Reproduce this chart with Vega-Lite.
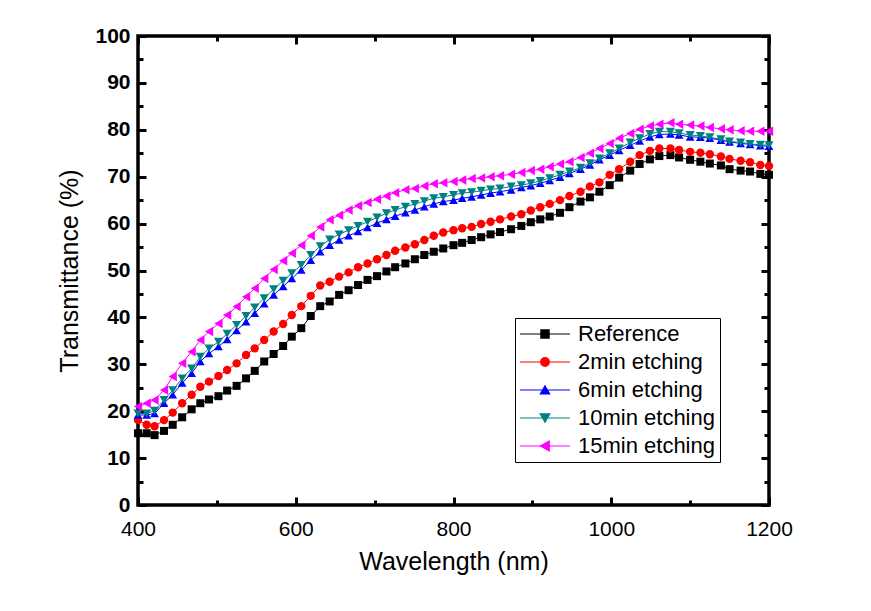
{
  "$schema": "https://vega.github.io/schema/vega-lite/v6.json",
  "width": 631,
  "height": 469,
  "autosize": {"type": "none"},
  "padding": {"left": 138, "top": 36, "right": 102, "bottom": 106},
  "background": "white",
  "config": {
    "view": {"stroke": "black", "strokeWidth": 3.5},
    "font": "Liberation Sans",
    "axis": {"grid": false, "domain": false, "tickColor": "black", "tickWidth": 3, "labelColor": "black", "titleColor": "black", "labelFont": "Liberation Sans", "titleFont": "Liberation Sans"},
    "legend": {"padding": 5, "labelFontSize": 22, "labelFont": "Liberation Sans", "labelLimit": 300, "rowPadding": 6, "symbolSize": 100}
  },
  "datasets": {
    "main": [
      {"s":"Reference","w":400,"t":15.3},{"s":"Reference","w":411,"t":15.3},{"s":"Reference","w":421,"t":14.9},{"s":"Reference","w":433,"t":15.8},{"s":"Reference","w":444,"t":17.1},{"s":"Reference","w":456,"t":18.7},{"s":"Reference","w":468,"t":20.4},{"s":"Reference","w":479,"t":21.7},{"s":"Reference","w":490,"t":22.5},{"s":"Reference","w":502,"t":23.2},{"s":"Reference","w":513,"t":24.4},{"s":"Reference","w":525,"t":25.4},{"s":"Reference","w":537,"t":27.0},{"s":"Reference","w":548,"t":28.6},{"s":"Reference","w":560,"t":30.6},{"s":"Reference","w":572,"t":32.2},{"s":"Reference","w":584,"t":33.9},{"s":"Reference","w":595,"t":35.9},{"s":"Reference","w":607,"t":37.7},{"s":"Reference","w":619,"t":40.3},{"s":"Reference","w":631,"t":42.4},{"s":"Reference","w":643,"t":43.4},{"s":"Reference","w":655,"t":44.8},{"s":"Reference","w":667,"t":45.8},{"s":"Reference","w":679,"t":46.9},{"s":"Reference","w":691,"t":48.0},{"s":"Reference","w":703,"t":48.8},{"s":"Reference","w":715,"t":49.8},{"s":"Reference","w":726,"t":50.7},{"s":"Reference","w":739,"t":51.5},{"s":"Reference","w":751,"t":52.4},{"s":"Reference","w":763,"t":53.3},{"s":"Reference","w":775,"t":54.0},{"s":"Reference","w":787,"t":54.7},{"s":"Reference","w":800,"t":55.4},{"s":"Reference","w":811,"t":55.9},{"s":"Reference","w":823,"t":56.5},{"s":"Reference","w":835,"t":57.1},{"s":"Reference","w":847,"t":57.7},{"s":"Reference","w":859,"t":58.2},{"s":"Reference","w":873,"t":58.8},{"s":"Reference","w":886,"t":59.5},{"s":"Reference","w":898,"t":60.3},{"s":"Reference","w":910,"t":60.9},{"s":"Reference","w":922,"t":61.5},{"s":"Reference","w":935,"t":62.3},{"s":"Reference","w":947,"t":63.5},{"s":"Reference","w":961,"t":64.7},{"s":"Reference","w":973,"t":65.6},{"s":"Reference","w":985,"t":66.8},{"s":"Reference","w":998,"t":68.2},{"s":"Reference","w":1010,"t":69.8},{"s":"Reference","w":1024,"t":71.3},{"s":"Reference","w":1036,"t":72.7},{"s":"Reference","w":1049,"t":73.7},{"s":"Reference","w":1061,"t":74.4},{"s":"Reference","w":1075,"t":74.6},{"s":"Reference","w":1086,"t":74.1},{"s":"Reference","w":1100,"t":73.6},{"s":"Reference","w":1113,"t":73.2},{"s":"Reference","w":1125,"t":72.8},{"s":"Reference","w":1139,"t":72.4},{"s":"Reference","w":1150,"t":71.6},{"s":"Reference","w":1164,"t":71.3},{"s":"Reference","w":1176,"t":71.1},{"s":"Reference","w":1189,"t":70.6},{"s":"Reference","w":1200,"t":70.4},

      {"s":"2min etching","w":400,"t":18.1},{"s":"2min etching","w":411,"t":17.1},{"s":"2min etching","w":421,"t":16.8},{"s":"2min etching","w":433,"t":18.1},{"s":"2min etching","w":444,"t":19.7},{"s":"2min etching","w":456,"t":21.7},{"s":"2min etching","w":468,"t":23.5},{"s":"2min etching","w":479,"t":25.2},{"s":"2min etching","w":490,"t":26.3},{"s":"2min etching","w":502,"t":27.5},{"s":"2min etching","w":513,"t":28.8},{"s":"2min etching","w":525,"t":30.2},{"s":"2min etching","w":537,"t":32.0},{"s":"2min etching","w":548,"t":33.4},{"s":"2min etching","w":560,"t":35.2},{"s":"2min etching","w":572,"t":37.0},{"s":"2min etching","w":584,"t":38.6},{"s":"2min etching","w":595,"t":40.5},{"s":"2min etching","w":607,"t":42.4},{"s":"2min etching","w":619,"t":44.6},{"s":"2min etching","w":631,"t":46.8},{"s":"2min etching","w":643,"t":47.6},{"s":"2min etching","w":655,"t":48.7},{"s":"2min etching","w":667,"t":49.6},{"s":"2min etching","w":679,"t":50.7},{"s":"2min etching","w":691,"t":51.5},{"s":"2min etching","w":703,"t":52.4},{"s":"2min etching","w":715,"t":53.3},{"s":"2min etching","w":726,"t":54.2},{"s":"2min etching","w":739,"t":54.9},{"s":"2min etching","w":751,"t":55.6},{"s":"2min etching","w":763,"t":56.5},{"s":"2min etching","w":775,"t":57.4},{"s":"2min etching","w":787,"t":58.1},{"s":"2min etching","w":800,"t":58.6},{"s":"2min etching","w":811,"t":59.0},{"s":"2min etching","w":823,"t":59.3},{"s":"2min etching","w":835,"t":59.9},{"s":"2min etching","w":847,"t":60.4},{"s":"2min etching","w":859,"t":60.9},{"s":"2min etching","w":873,"t":61.5},{"s":"2min etching","w":886,"t":62.0},{"s":"2min etching","w":898,"t":62.8},{"s":"2min etching","w":910,"t":63.5},{"s":"2min etching","w":922,"t":64.2},{"s":"2min etching","w":935,"t":65.0},{"s":"2min etching","w":947,"t":65.9},{"s":"2min etching","w":961,"t":66.8},{"s":"2min etching","w":973,"t":67.9},{"s":"2min etching","w":985,"t":68.8},{"s":"2min etching","w":998,"t":70.4},{"s":"2min etching","w":1010,"t":71.6},{"s":"2min etching","w":1024,"t":73.2},{"s":"2min etching","w":1036,"t":74.6},{"s":"2min etching","w":1049,"t":75.5},{"s":"2min etching","w":1061,"t":76.0},{"s":"2min etching","w":1075,"t":76.0},{"s":"2min etching","w":1086,"t":75.7},{"s":"2min etching","w":1100,"t":75.3},{"s":"2min etching","w":1113,"t":75.1},{"s":"2min etching","w":1125,"t":74.8},{"s":"2min etching","w":1139,"t":74.3},{"s":"2min etching","w":1150,"t":73.8},{"s":"2min etching","w":1164,"t":73.4},{"s":"2min etching","w":1176,"t":73.1},{"s":"2min etching","w":1189,"t":72.5},{"s":"2min etching","w":1200,"t":72.3},

      {"s":"6min etching","w":400,"t":19.2},{"s":"6min etching","w":411,"t":19.2},{"s":"6min etching","w":421,"t":19.5},{"s":"6min etching","w":433,"t":21.7},{"s":"6min etching","w":444,"t":23.5},{"s":"6min etching","w":456,"t":26.0},{"s":"6min etching","w":468,"t":28.1},{"s":"6min etching","w":479,"t":30.6},{"s":"6min etching","w":490,"t":32.3},{"s":"6min etching","w":502,"t":33.8},{"s":"6min etching","w":513,"t":35.3},{"s":"6min etching","w":525,"t":37.2},{"s":"6min etching","w":537,"t":39.1},{"s":"6min etching","w":548,"t":40.9},{"s":"6min etching","w":560,"t":42.9},{"s":"6min etching","w":572,"t":44.8},{"s":"6min etching","w":584,"t":46.6},{"s":"6min etching","w":595,"t":48.3},{"s":"6min etching","w":607,"t":50.1},{"s":"6min etching","w":619,"t":52.2},{"s":"6min etching","w":631,"t":54.0},{"s":"6min etching","w":643,"t":55.4},{"s":"6min etching","w":655,"t":56.5},{"s":"6min etching","w":667,"t":57.4},{"s":"6min etching","w":679,"t":58.3},{"s":"6min etching","w":691,"t":59.2},{"s":"6min etching","w":703,"t":60.1},{"s":"6min etching","w":715,"t":60.9},{"s":"6min etching","w":726,"t":61.6},{"s":"6min etching","w":739,"t":62.3},{"s":"6min etching","w":751,"t":62.9},{"s":"6min etching","w":763,"t":63.6},{"s":"6min etching","w":775,"t":64.2},{"s":"6min etching","w":787,"t":64.7},{"s":"6min etching","w":800,"t":65.0},{"s":"6min etching","w":811,"t":65.4},{"s":"6min etching","w":823,"t":65.7},{"s":"6min etching","w":835,"t":66.1},{"s":"6min etching","w":847,"t":66.5},{"s":"6min etching","w":859,"t":66.8},{"s":"6min etching","w":873,"t":67.2},{"s":"6min etching","w":886,"t":67.7},{"s":"6min etching","w":898,"t":68.1},{"s":"6min etching","w":910,"t":68.6},{"s":"6min etching","w":922,"t":69.2},{"s":"6min etching","w":935,"t":69.9},{"s":"6min etching","w":947,"t":70.7},{"s":"6min etching","w":961,"t":71.6},{"s":"6min etching","w":973,"t":72.5},{"s":"6min etching","w":985,"t":73.6},{"s":"6min etching","w":998,"t":74.6},{"s":"6min etching","w":1010,"t":75.6},{"s":"6min etching","w":1024,"t":76.7},{"s":"6min etching","w":1036,"t":77.6},{"s":"6min etching","w":1049,"t":78.5},{"s":"6min etching","w":1061,"t":79.0},{"s":"6min etching","w":1075,"t":79.1},{"s":"6min etching","w":1086,"t":78.9},{"s":"6min etching","w":1100,"t":78.5},{"s":"6min etching","w":1113,"t":78.4},{"s":"6min etching","w":1125,"t":78.2},{"s":"6min etching","w":1139,"t":77.8},{"s":"6min etching","w":1150,"t":77.4},{"s":"6min etching","w":1164,"t":77.1},{"s":"6min etching","w":1176,"t":76.9},{"s":"6min etching","w":1189,"t":76.6},{"s":"6min etching","w":1200,"t":76.5},

      {"s":"10min etching","w":400,"t":19.5},{"s":"10min etching","w":411,"t":19.5},{"s":"10min etching","w":421,"t":20.1},{"s":"10min etching","w":433,"t":22.4},{"s":"10min etching","w":444,"t":24.5},{"s":"10min etching","w":456,"t":27.0},{"s":"10min etching","w":468,"t":29.1},{"s":"10min etching","w":479,"t":31.6},{"s":"10min etching","w":490,"t":33.4},{"s":"10min etching","w":502,"t":34.8},{"s":"10min etching","w":513,"t":36.5},{"s":"10min etching","w":525,"t":38.4},{"s":"10min etching","w":537,"t":40.3},{"s":"10min etching","w":548,"t":42.1},{"s":"10min etching","w":560,"t":44.1},{"s":"10min etching","w":572,"t":46.0},{"s":"10min etching","w":584,"t":47.8},{"s":"10min etching","w":595,"t":49.4},{"s":"10min etching","w":607,"t":51.2},{"s":"10min etching","w":619,"t":53.3},{"s":"10min etching","w":631,"t":55.2},{"s":"10min etching","w":643,"t":56.6},{"s":"10min etching","w":655,"t":57.7},{"s":"10min etching","w":667,"t":58.6},{"s":"10min etching","w":679,"t":59.5},{"s":"10min etching","w":691,"t":60.4},{"s":"10min etching","w":703,"t":61.3},{"s":"10min etching","w":715,"t":62.2},{"s":"10min etching","w":726,"t":62.9},{"s":"10min etching","w":739,"t":63.6},{"s":"10min etching","w":751,"t":64.2},{"s":"10min etching","w":763,"t":64.8},{"s":"10min etching","w":775,"t":65.4},{"s":"10min etching","w":787,"t":65.7},{"s":"10min etching","w":800,"t":66.1},{"s":"10min etching","w":811,"t":66.5},{"s":"10min etching","w":823,"t":66.7},{"s":"10min etching","w":835,"t":67.0},{"s":"10min etching","w":847,"t":67.3},{"s":"10min etching","w":859,"t":67.5},{"s":"10min etching","w":873,"t":67.9},{"s":"10min etching","w":886,"t":68.2},{"s":"10min etching","w":898,"t":68.6},{"s":"10min etching","w":910,"t":69.1},{"s":"10min etching","w":922,"t":69.7},{"s":"10min etching","w":935,"t":70.4},{"s":"10min etching","w":947,"t":71.1},{"s":"10min etching","w":961,"t":71.9},{"s":"10min etching","w":973,"t":72.9},{"s":"10min etching","w":985,"t":73.9},{"s":"10min etching","w":998,"t":75.0},{"s":"10min etching","w":1010,"t":76.0},{"s":"10min etching","w":1024,"t":77.3},{"s":"10min etching","w":1036,"t":78.2},{"s":"10min etching","w":1049,"t":79.1},{"s":"10min etching","w":1061,"t":79.6},{"s":"10min etching","w":1075,"t":79.6},{"s":"10min etching","w":1086,"t":79.3},{"s":"10min etching","w":1100,"t":78.9},{"s":"10min etching","w":1113,"t":78.7},{"s":"10min etching","w":1125,"t":78.4},{"s":"10min etching","w":1139,"t":78.0},{"s":"10min etching","w":1150,"t":77.5},{"s":"10min etching","w":1164,"t":77.3},{"s":"10min etching","w":1176,"t":77.0},{"s":"10min etching","w":1189,"t":76.8},{"s":"10min etching","w":1200,"t":76.7},

      {"s":"15min etching","w":400,"t":21.0},{"s":"15min etching","w":411,"t":21.7},{"s":"15min etching","w":421,"t":22.4},{"s":"15min etching","w":433,"t":24.5},{"s":"15min etching","w":444,"t":27.4},{"s":"15min etching","w":456,"t":30.2},{"s":"15min etching","w":468,"t":32.7},{"s":"15min etching","w":479,"t":35.2},{"s":"15min etching","w":490,"t":37.0},{"s":"15min etching","w":502,"t":38.7},{"s":"15min etching","w":513,"t":40.5},{"s":"15min etching","w":525,"t":42.3},{"s":"15min etching","w":537,"t":44.4},{"s":"15min etching","w":548,"t":46.2},{"s":"15min etching","w":560,"t":48.3},{"s":"15min etching","w":572,"t":50.2},{"s":"15min etching","w":584,"t":52.1},{"s":"15min etching","w":595,"t":53.7},{"s":"15min etching","w":607,"t":55.4},{"s":"15min etching","w":619,"t":57.4},{"s":"15min etching","w":631,"t":59.3},{"s":"15min etching","w":643,"t":60.8},{"s":"15min etching","w":655,"t":61.8},{"s":"15min etching","w":667,"t":62.9},{"s":"15min etching","w":679,"t":63.8},{"s":"15min etching","w":691,"t":64.5},{"s":"15min etching","w":703,"t":65.2},{"s":"15min etching","w":715,"t":65.9},{"s":"15min etching","w":726,"t":66.6},{"s":"15min etching","w":739,"t":67.2},{"s":"15min etching","w":751,"t":67.5},{"s":"15min etching","w":763,"t":68.0},{"s":"15min etching","w":775,"t":68.5},{"s":"15min etching","w":787,"t":68.7},{"s":"15min etching","w":800,"t":69.0},{"s":"15min etching","w":811,"t":69.3},{"s":"15min etching","w":823,"t":69.6},{"s":"15min etching","w":835,"t":69.7},{"s":"15min etching","w":847,"t":70.0},{"s":"15min etching","w":859,"t":70.2},{"s":"15min etching","w":873,"t":70.5},{"s":"15min etching","w":886,"t":70.9},{"s":"15min etching","w":898,"t":71.3},{"s":"15min etching","w":910,"t":71.6},{"s":"15min etching","w":922,"t":72.1},{"s":"15min etching","w":935,"t":72.7},{"s":"15min etching","w":947,"t":73.2},{"s":"15min etching","w":961,"t":74.1},{"s":"15min etching","w":973,"t":75.0},{"s":"15min etching","w":985,"t":76.0},{"s":"15min etching","w":998,"t":77.1},{"s":"15min etching","w":1010,"t":78.2},{"s":"15min etching","w":1024,"t":79.2},{"s":"15min etching","w":1036,"t":80.1},{"s":"15min etching","w":1049,"t":80.8},{"s":"15min etching","w":1061,"t":81.2},{"s":"15min etching","w":1075,"t":81.5},{"s":"15min etching","w":1086,"t":81.2},{"s":"15min etching","w":1100,"t":81.0},{"s":"15min etching","w":1113,"t":80.8},{"s":"15min etching","w":1125,"t":80.5},{"s":"15min etching","w":1139,"t":80.2},{"s":"15min etching","w":1150,"t":80.0},{"s":"15min etching","w":1164,"t":79.8},{"s":"15min etching","w":1176,"t":79.7},{"s":"15min etching","w":1189,"t":79.7},{"s":"15min etching","w":1200,"t":79.7}
    ]
  },
  "data": {"name": "main"},
  "layer": [
    {
      "mark": {"type": "line", "strokeWidth": 1},
      "encoding": {
        "x": {"field": "w", "type": "quantitative", "scale": {"domain": [400, 1200], "nice": false, "zero": false},
          "axis": {"orient": "bottom", "values": [400, 600, 800, 1000, 1200], "format": "d", "tickSize": -8, "labelFontSize": 21, "labelPadding": 21, "labelFlush": false, "labelOverlap": false, "title": "Wavelength (nm)", "titleFontSize": 25, "titleFontWeight": "normal", "titlePadding": 10}},
        "y": {"field": "t", "type": "quantitative", "scale": {"domain": [0, 100], "nice": false, "zero": false},
          "axis": {"orient": "left", "values": [0, 10, 20, 30, 40, 50, 60, 70, 80, 90, 100], "format": "d", "tickSize": -8, "labelFontSize": 21, "labelFontWeight": "bold", "labelPadding": 16, "labelOverlap": false, "title": "Transmittance (%)", "titleFontSize": 25, "titleFontWeight": "normal", "titlePadding": 12}},
        "color": {"field": "s", "type": "nominal",
          "scale": {"domain": ["Reference", "2min etching", "6min etching", "10min etching", "15min etching"], "range": ["#000000", "#FF0000", "#0000FF", "#008080", "#FF00FF"]},
          "legend": {"title": null, "orient": "none", "legendX": 377, "legendY": 282, "strokeColor": "black", "symbolOffset": 14, "labelOffset": 22, "labelColor": "black"}}
      }
    },
    {
      "mark": {"type": "point", "filled": true, "opacity": 1},
      "encoding": {
        "x": {"field": "w", "type": "quantitative",
          "axis": {"orient": "bottom", "values": [500, 700, 900, 1100], "tickSize": -5, "labels": false, "title": null}},
        "y": {"field": "t", "type": "quantitative",
          "axis": {"orient": "left", "values": [5, 15, 25, 35, 45, 55, 65, 75, 85, 95], "tickSize": -5, "labels": false, "title": null}},
        "size": {"field": "s", "type": "ordinal", "scale": {"domain": ["Reference", "2min etching", "6min etching", "10min etching", "15min etching"], "range": [64, 90, 115, 115, 110]}, "legend": null},
        "color": {"field": "s", "type": "nominal", "legend": null},
        "shape": {"field": "s", "type": "nominal",
          "scale": {"domain": ["Reference", "2min etching", "6min etching", "10min etching", "15min etching"], "range": ["square", "circle", "triangle-up", "triangle-down", "triangle-left"]},
          "legend": null}
      }
    },
    {
      "mark": {"type": "point", "opacity": 0},
      "encoding": {
        "x": {"field": "w", "type": "quantitative",
          "axis": {"orient": "top", "values": [400, 600, 800, 1000, 1200], "tickSize": -8, "labels": false, "title": null}},
        "y": {"field": "t", "type": "quantitative",
          "axis": {"orient": "right", "values": [0, 10, 20, 30, 40, 50, 60, 70, 80, 90, 100], "tickSize": -8, "labels": false, "title": null}}
      }
    },
    {
      "mark": {"type": "point", "opacity": 0},
      "encoding": {
        "x": {"field": "w", "type": "quantitative",
          "axis": {"orient": "top", "values": [500, 700, 900, 1100], "tickSize": -5, "labels": false, "title": null}},
        "y": {"field": "t", "type": "quantitative",
          "axis": {"orient": "right", "values": [5, 15, 25, 35, 45, 55, 65, 75, 85, 95], "tickSize": -5, "labels": false, "title": null}},
        "stroke": {"field": "s", "type": "nominal",
          "scale": {"domain": ["Reference", "2min etching", "6min etching", "10min etching", "15min etching"], "range": ["#000000", "#FF0000", "#0000FF", "#008080", "#FF00FF"]},
          "legend": {"title": null, "orient": "bottom-right", "offset": 43, "symbolType": "M-1,0H9", "symbolStrokeWidth": 1, "symbolSize": 100, "symbolOpacity": 1, "symbolFillColor": "transparent", "labelExpr": "' '", "labelColor": "transparent", "labelOffset": 185}}
      }
    }
  ],
  "resolve": {"axis": {"x": "independent", "y": "independent"}}
}
